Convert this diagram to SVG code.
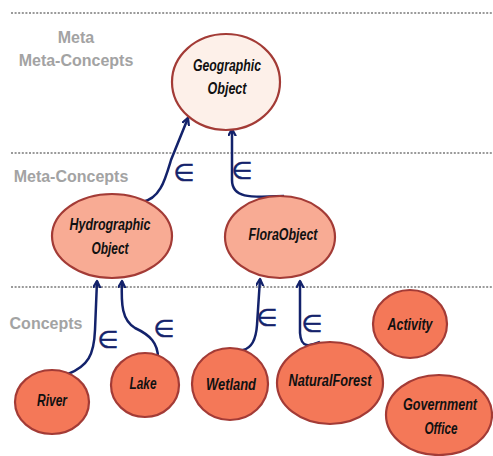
<svg xmlns="http://www.w3.org/2000/svg" width="493" height="456" viewBox="0 0 493 456">
<style>
.sep{stroke:#9a9a9a;stroke-width:2.2;stroke-dasharray:2 1.6;fill:none}
.lvl{font-family:"Liberation Sans",Arial,sans-serif;font-weight:bold;font-size:16px;fill:#a3a3a3;text-anchor:middle}
.n{stroke:#a33b36;stroke-width:2.2}
.top{fill:#fdf0e9}
.meta{fill:#f8ab94}
.con{fill:#f47858}
.t{font-family:"Liberation Sans",Arial,sans-serif;font-weight:bold;font-style:italic;font-size:16px;fill:#111;text-anchor:middle}
.e{stroke:#13226b;stroke-width:2.5;fill:none;marker-end:url(#ah)}
.el{font-family:"DejaVu Sans",sans-serif;font-size:24px;fill:#13226b;stroke:#13226b;stroke-width:0.5;text-anchor:middle}
</style>
<defs>
<marker id="ah" markerWidth="10" markerHeight="10" refX="7" refY="4" orient="auto" markerUnits="userSpaceOnUse">
<path d="M0.5,0.5 L7,4 L0.5,7.5" fill="none" stroke="#13226b" stroke-width="2.3" stroke-linecap="round" stroke-linejoin="round"/>
</marker>
</defs>
<rect width="493" height="456" fill="#fff"/>
<g id="separators">
<line class="sep" x1="11" y1="13" x2="493" y2="13"/>
<line class="sep" x1="11" y1="153" x2="493" y2="153"/>
<line class="sep" x1="11" y1="287" x2="493" y2="287"/>
</g>
<g id="levels">
<text class="lvl" x="76" y="43">Meta</text>
<text class="lvl" x="76" y="66">Meta-Concepts</text>
<text class="lvl" x="71" y="182">Meta-Concepts</text>
<text class="lvl" x="46" y="329">Concepts</text>
</g>
<g id="connectors">
<path class="e" d="M142,202 C160,199 165,180 171,160 L188,118"/>
<text class="el" x="184" y="181">∈</text>
<path class="e" d="M284,196 C255,197 232,200 232,180 L232,129"/>
<text class="el" x="242" y="179">∈</text>
<path class="e" d="M68,374 C88,366 94,355 95,330 L97,281"/>
<text class="el" x="108" y="348">∈</text>
<path class="e" d="M158,358 C158,343 150,335 135,328 C122,320 121,305 122,281"/>
<text class="el" x="164" y="337">∈</text>
<path class="e" d="M227,350 L243,350 C252,348 256,340 257,325 L260,279"/>
<text class="el" x="267" y="326">∈</text>
<path class="e" d="M320,342 C310,346 301,349 300,333 L300,281"/>
<text class="el" x="312" y="332">∈</text>
</g>
<g id="geographic-object">
<ellipse class="n top" cx="226" cy="82" rx="54" ry="48"/>
<text class="t" x="227" y="71" textLength="68" lengthAdjust="spacingAndGlyphs">Geographic</text>
<text class="t" x="227" y="94" textLength="39" lengthAdjust="spacingAndGlyphs">Object</text>
</g>
<g id="hydrographic-object">
<ellipse class="n meta" cx="112" cy="236" rx="60" ry="42"/>
<text class="t" x="110" y="230" textLength="81" lengthAdjust="spacingAndGlyphs">Hydrographic</text>
<text class="t" x="110" y="254" textLength="37" lengthAdjust="spacingAndGlyphs">Object</text>
</g>
<g id="flora-object">
<ellipse class="n meta" cx="280" cy="237" rx="55" ry="41"/>
<text class="t" x="283" y="240" textLength="69" lengthAdjust="spacingAndGlyphs">FloraObject</text>
</g>
<g id="river">
<ellipse class="n con" cx="52" cy="402" rx="37" ry="32"/>
<text class="t" x="52" y="406" textLength="30" lengthAdjust="spacingAndGlyphs">River</text>
</g>
<g id="lake">
<ellipse class="n con" cx="145" cy="385" rx="34" ry="32"/>
<text class="t" x="143" y="389" textLength="27" lengthAdjust="spacingAndGlyphs">Lake</text>
</g>
<g id="wetland">
<ellipse class="n con" cx="230" cy="384" rx="38" ry="36"/>
<text class="t" x="231" y="390" textLength="50" lengthAdjust="spacingAndGlyphs">Wetland</text>
</g>
<g id="natural-forest">
<ellipse class="n con" cx="330" cy="383" rx="53" ry="41"/>
<text class="t" x="330" y="386" textLength="83" lengthAdjust="spacingAndGlyphs">NaturalForest</text>
</g>
<g id="activity">
<ellipse class="n con" cx="410" cy="324" rx="37" ry="34"/>
<text class="t" x="410" y="330" textLength="45" lengthAdjust="spacingAndGlyphs">Activity</text>
</g>
<g id="government-office">
<ellipse class="n con" cx="439" cy="415" rx="53" ry="40"/>
<text class="t" x="440" y="410" textLength="74" lengthAdjust="spacingAndGlyphs">Government</text>
<text class="t" x="441" y="434" textLength="33" lengthAdjust="spacingAndGlyphs">Office</text>
</g>
</svg>
